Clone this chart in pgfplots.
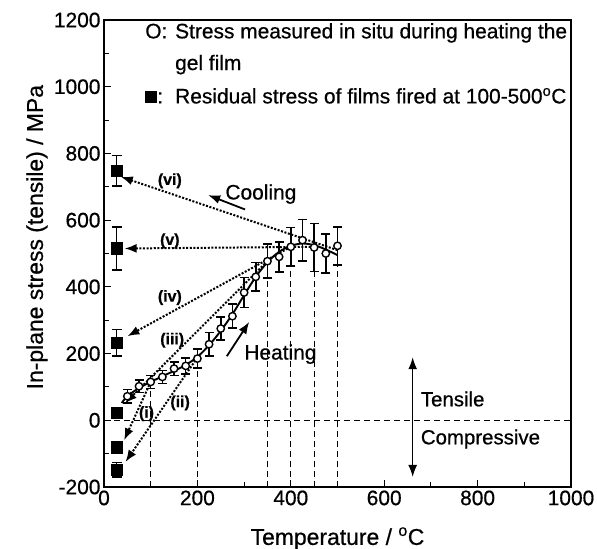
\documentclass[border=0pt]{standalone}
\usepackage{fontspec}
\setmainfont[FakeBold=0.6]{Liberation Sans}
\usepackage{pgfplots}
\pgfplotsset{compat=1.18}
\usetikzlibrary{arrows.meta}

\pgfplotstableread{
T   s    e
50  72   20
75  102  19
100 115  20
125 130  19
150 155  20
175 163  24
200 185  29
225 228  35
250 275  34
275 312  36
300 383  45
325 430  43
350 477  51
375 490  45
400 520  58
425 540  62
450 518  72
475 500  58
500 523  57
}\heating

\pgfplotstableread{
T   s    e
27  748  46
27  515  65
27  232  40
27  23   12
27  -80  10
27  -148 22
}\residual

\begin{document}
\begin{tikzpicture}
\begin{axis}[
  scale only axis, width=467bp, height=467bp,
  xmin=0, xmax=1000, ymin=-200, ymax=1200,
  xtick={0,200,...,1000}, ytick={-200,0,...,1200},
  minor x tick num=1, minor y tick num=1,
  tick pos=left, tick align=inside,
  major tick length=7bp, minor tick length=5bp,
  axis line style={line width=1.4bp},
  every tick/.style={line width=1.1bp, black},
  /pgf/number format/assume math mode=true,
  /pgf/number format/1000 sep={},
  tick label style={font=\fontsize{21}{25}\selectfont},
  label style={font=\fontsize{23}{27}\selectfont},
  xlabel={Temperature / \textsuperscript{o}C},
  ylabel={In-plane stress (tensile) / MPa},
  xlabel style={at={(axis description cs:0.5,-0.124)}, anchor=base},
  ylabel style={at={(axis description cs:-0.1435,0.535)}, anchor=center},
  clip=false,
]
% dashed reference lines
\addplot[black, line width=1.2bp, dash pattern=on 6bp off 4bp] coordinates {(0,0) (1000,0)};
\addplot[black, line width=1.2bp, dash pattern=on 6bp off 4bp] coordinates {(100,-200) (100,112)};
\addplot[black, line width=1.2bp, dash pattern=on 6bp off 4bp] coordinates {(200,-200) (200,188)};
\addplot[black, line width=1.2bp, dash pattern=on 6bp off 4bp] coordinates {(350,-200) (350,477)};
\addplot[black, line width=1.2bp, dash pattern=on 6bp off 4bp] coordinates {(400,-200) (400,520)};
\addplot[black, line width=1.2bp, dash pattern=on 6bp off 4bp] coordinates {(450,-200) (450,518)};
\addplot[black, line width=1.2bp, dash pattern=on 6bp off 4bp] coordinates {(500,-200) (500,523)};

% fitted heating curve
\addplot[black, line width=1.9bp, smooth, tension=0.5] coordinates {
 (38,52) (50,72) (75,97) (100,115) (125,132) (150,148) (175,166) (200,190)
 (225,225) (250,268) (275,318) (300,375) (325,430) (350,474) (375,505)
 (400,523) (425,530) (450,525) (475,512) (500,495)};

% cooling arrows
\addplot[black, line width=2bp, dash pattern=on 2bp off 1.6bp, -{Latex[length=12bp,width=9bp]}] coordinates {(100,115) (43,-60)};
\addplot[black, line width=2bp, dash pattern=on 2bp off 1.6bp, -{Latex[length=12bp,width=9bp]}] coordinates {(200,188) (46,-125)};
\addplot[black, line width=2bp, dash pattern=on 2bp off 1.6bp, -{Latex[length=12bp,width=9bp]}] coordinates {(350,477) (45,51)};
\addplot[black, line width=2bp, dash pattern=on 2bp off 1.6bp, -{Latex[length=12bp,width=9bp]}] coordinates {(400,520) (50,252)};
\addplot[black, line width=2bp, dash pattern=on 2bp off 1.6bp, -{Latex[length=12bp,width=9bp]}] coordinates {(450,520) (44,515)};
\addplot[black, line width=2bp, dash pattern=on 2bp off 1.6bp, -{Latex[length=12bp,width=9bp]}] coordinates {(500,510) (36,730)};

% heating data
\addplot[black, only marks, mark=*, mark size=3.7bp,
  mark options={fill=white, draw=black, line width=1.4bp},
  error bars/.cd, y dir=both, y explicit,
  error bar style={line width=1.5bp, black},
  error mark options={rotate=90, mark size=4.5bp, line width=1.5bp, black}]
  table[x=T, y=s, y error=e] {\heating};

% residual stress
\addplot[black, only marks, mark=square*, mark size=5.8bp,
  mark options={fill=black, draw=black},
  error bars/.cd, y dir=both, y explicit,
  error bar style={line width=1.5bp, black},
  error mark options={rotate=90, mark size=5bp, line width=1.5bp, black}]
  table[x=T, y=s, y error=e] {\residual};

% heating / cooling arrows
\addplot[black, line width=1.8bp, -{Latex[length=12bp,width=9bp]}] coordinates {(263,192) (311,295)};
\addplot[black, line width=1.8bp, -{Latex[length=12bp,width=9bp]}] coordinates {(302,632) (223,675)};
\addplot[black, line width=1.5bp, {Latex[length=12bp,width=9bp]}-{Latex[length=12bp,width=9bp]}] coordinates {(661,189) (661,-170)};

% labels
\node[font=\fontsize{21}{25}\selectfont, anchor=base] at (axis cs:336,662) {Cooling};
\node[font=\fontsize{21}{25}\selectfont, anchor=base west] at (axis cs:293,182) {Heating};
\node[font=\fontsize{20.5}{24}\selectfont, anchor=base west] at (axis cs:671,42) {Tensile};
\node[font=\fontsize{20.5}{24}\selectfont, anchor=base west] at (axis cs:671,-72) {Compressive};

\node[font=\bfseries\fontsize{16}{19}\selectfont] at (axis cs:141,718) {(vi)};
\node[font=\bfseries\fontsize{16}{19}\selectfont] at (axis cs:141,538) {(v)};
\node[font=\bfseries\fontsize{16}{19}\selectfont] at (axis cs:141,368) {(iv)};
\node[font=\bfseries\fontsize{16}{19}\selectfont] at (axis cs:146,240) {(iii)};
\node[font=\bfseries\fontsize{16}{19}\selectfont] at (axis cs:163,52) {(ii)};
\node[font=\bfseries\fontsize{16}{19}\selectfont] at (axis cs:91,20) {(i)};

% legend text
\node[font=\fontsize{21}{25}\selectfont, anchor=base west, inner sep=0pt] at (axis cs:88,1145) {O:};
\node[font=\fontsize{21}{25}\selectfont, anchor=base west, inner sep=0pt] at (axis cs:152,1145) {Stress measured in situ during heating the};
\node[font=\fontsize{21}{25}\selectfont, anchor=base west, inner sep=0pt] at (axis cs:152,1050) {gel film};
\node[font=\fontsize{21}{25}\selectfont, anchor=base west, inner sep=0pt] at (axis cs:88,950) {\rule{12bp}{12bp}:};
\node[font=\fontsize{21}{25}\selectfont, anchor=base west, inner sep=0pt] at (axis cs:152,950) {Residual stress of films fired at 100-500\textsuperscript{o}C};
\end{axis}
\pgfresetboundingbox
\useasboundingbox (-104bp,-62bp) rectangle (493bp,487bp);
\end{tikzpicture}
\end{document}
